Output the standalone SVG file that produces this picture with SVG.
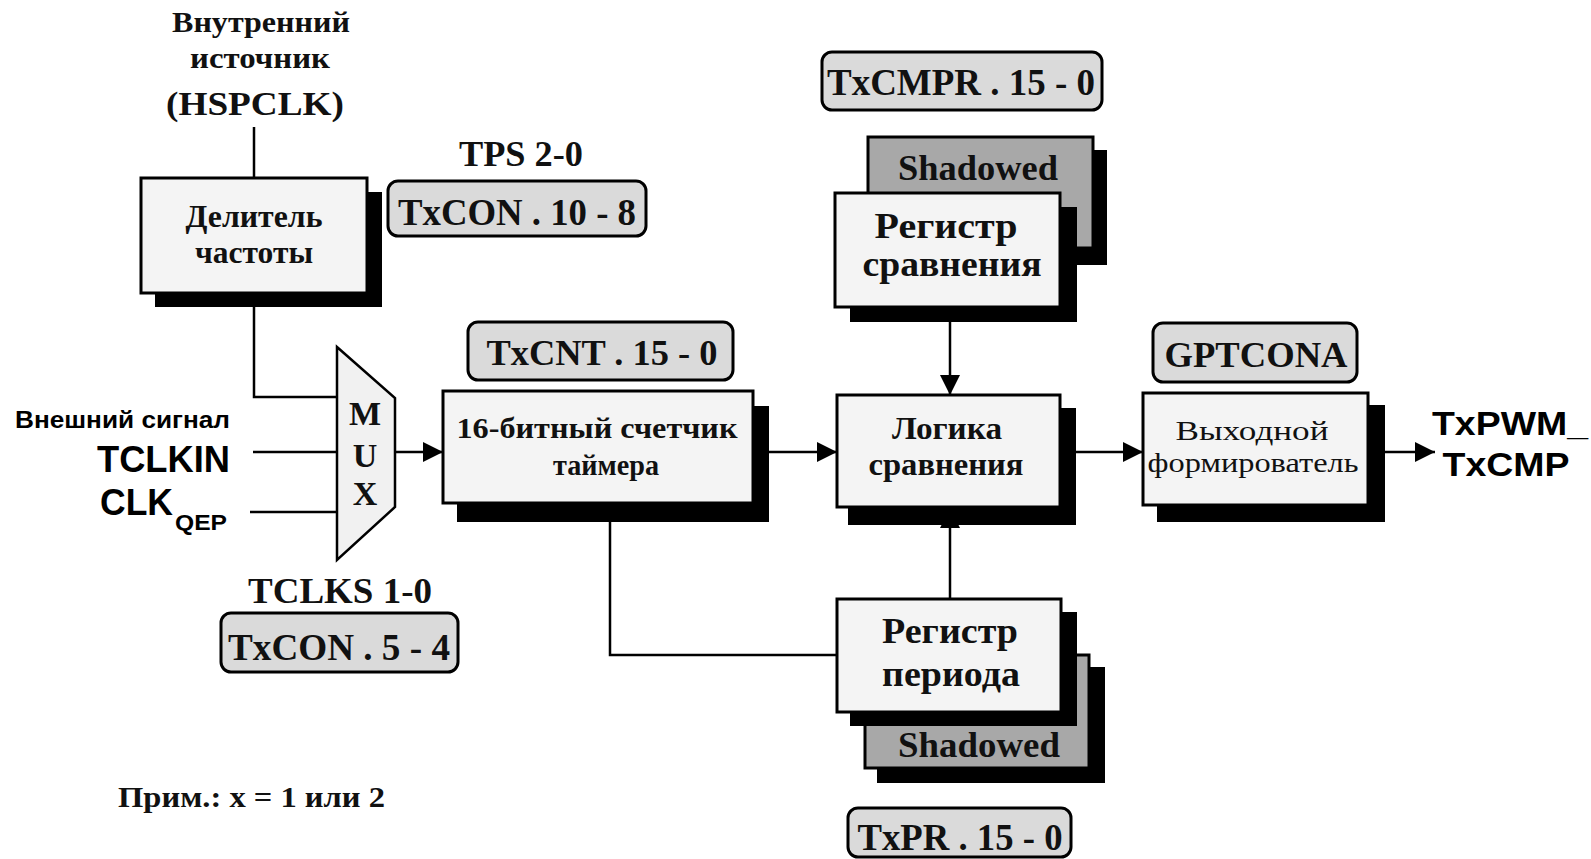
<svg xmlns="http://www.w3.org/2000/svg" width="1591" height="859" viewBox="0 0 1591 859">
<defs>
<style>
.box{fill:#f4f4f4;stroke:#000;stroke-width:3}
.shd{fill:#000}
.sbox{fill:#a8a8a8;stroke:#000;stroke-width:3}
.lbl{fill:#dadada;stroke:#000;stroke-width:3}
.mux{fill:#f1f1f1;stroke:#000;stroke-width:2.5}
.ln{fill:none;stroke:#000;stroke-width:2.5}
.arr{fill:none;stroke:#000;stroke-width:2.5;marker-end:url(#ah)}
.s{font-family:"Liberation Serif","DejaVu Serif",serif;font-weight:bold;fill:#111;text-anchor:middle}
.st{font-family:"Liberation Serif","DejaVu Serif",serif;font-weight:bold;fill:#111;text-anchor:start}
.r{font-family:"Liberation Serif","DejaVu Serif",serif;font-weight:normal;fill:#111;text-anchor:middle}
.a{font-family:"Liberation Sans",Arial,sans-serif;font-weight:bold;fill:#000;text-anchor:start}
.am{font-family:"Liberation Sans",Arial,sans-serif;font-weight:bold;fill:#000;text-anchor:middle}
</style>
<marker id="ah" markerUnits="userSpaceOnUse" markerWidth="22" markerHeight="22" refX="20" refY="10" orient="auto">
<path d="M0,0 L20,10 L0,20 Z" fill="#000"/>
</marker>
</defs>
<rect width="1591" height="859" fill="#fff"/>

<g id="connectors">
<path class="ln" d="M254,127 V178"/>
<path class="ln" d="M254,293 V397 H337"/>
<path class="ln" d="M253,452 H337"/>
<path class="ln" d="M250,512 H337"/>
<path class="arr" d="M395,452 H443"/>
<path class="arr" d="M753,452 H837"/>
<path class="arr" d="M1060,452 H1143"/>
<path class="arr" d="M1368,452 H1435"/>
<path class="arr" d="M950,307 V395"/>
<path class="arr" d="M950,599 V508"/>
<path class="ln" d="M610,503 V655 H837"/>
</g>

<g id="source-label">
<text class="s" x="261" y="32" font-size="30" textLength="178" lengthAdjust="spacingAndGlyphs">Внутренний</text>
<text class="s" x="260" y="68" font-size="30" textLength="140" lengthAdjust="spacingAndGlyphs">источник</text>
<text class="s" x="255" y="115" font-size="34" textLength="178" lengthAdjust="spacingAndGlyphs">(HSPCLK)</text>
</g>

<g id="divider">
<rect class="shd" x="155" y="192" width="227" height="115"/>
<rect class="box" x="141" y="178" width="226" height="115"/>
<text class="s" x="254" y="227" font-size="31" textLength="137" lengthAdjust="spacingAndGlyphs">Делитель</text>
<text class="s" x="254" y="263" font-size="31" textLength="118" lengthAdjust="spacingAndGlyphs">частоты</text>
</g>

<g id="tps">
<text class="s" x="521" y="166" font-size="35" textLength="124" lengthAdjust="spacingAndGlyphs">TPS 2-0</text>
<rect class="lbl" x="388" y="181" width="258" height="55" rx="10"/>
<text class="s" x="517" y="225" font-size="37" textLength="238" lengthAdjust="spacingAndGlyphs">TxCON . 10 - 8</text>
</g>

<g id="inputs">
<text class="a" x="15" y="428" font-size="24" textLength="215" lengthAdjust="spacingAndGlyphs">Внешний сигнал</text>
<text class="a" x="97" y="472" font-size="37" textLength="133" lengthAdjust="spacingAndGlyphs">TCLKIN</text>
<text class="a" x="100" y="515" font-size="36" textLength="73" lengthAdjust="spacingAndGlyphs">CLK</text>
<text class="a" x="175" y="530" font-size="22" textLength="52" lengthAdjust="spacingAndGlyphs">QEP</text>
</g>

<g id="mux">
<polygon class="mux" points="337,347 395,398 395,507 337,560"/>
<text class="s" x="365" y="425" font-size="34">M</text>
<text class="s" x="365" y="467" font-size="34">U</text>
<text class="s" x="365" y="505" font-size="34">X</text>
</g>

<g id="tclks">
<text class="s" x="340" y="603" font-size="36" textLength="184" lengthAdjust="spacingAndGlyphs">TCLKS 1-0</text>
<rect class="lbl" x="221" y="613" width="237" height="59" rx="10"/>
<text class="s" x="339" y="660" font-size="38" textLength="222" lengthAdjust="spacingAndGlyphs">TxCON . 5 - 4</text>
</g>

<g id="counter">
<rect class="lbl" x="468" y="322" width="265" height="58" rx="10"/>
<text class="s" x="602" y="365" font-size="36" textLength="231" lengthAdjust="spacingAndGlyphs">TxCNT . 15 - 0</text>
<rect class="shd" x="457" y="406" width="312" height="116"/>
<rect class="box" x="443" y="391" width="310" height="112"/>
<text class="s" x="597" y="438" font-size="30" textLength="281" lengthAdjust="spacingAndGlyphs">16-битный счетчик</text>
<text class="s" x="606" y="475" font-size="30" textLength="106" lengthAdjust="spacingAndGlyphs">таймера</text>
</g>

<g id="compare-register">
<rect class="lbl" x="822" y="52" width="280" height="58" rx="10"/>
<text class="s" x="961" y="95" font-size="37" textLength="268" lengthAdjust="spacingAndGlyphs">TxCMPR . 15 - 0</text>
<rect class="shd" x="882" y="150" width="225" height="115"/>
<rect class="sbox" x="868" y="137" width="225" height="111"/>
<text class="s" x="978" y="180" font-size="35" fill="#222" textLength="160" lengthAdjust="spacingAndGlyphs">Shadowed</text>
<rect class="shd" x="850" y="207" width="227" height="115"/>
<rect class="box" x="835" y="193" width="225" height="114"/>
<text class="s" x="946" y="238" font-size="36" textLength="143" lengthAdjust="spacingAndGlyphs">Регистр</text>
<text class="s" x="952" y="276" font-size="36" textLength="179" lengthAdjust="spacingAndGlyphs">сравнения</text>
</g>

<g id="compare-logic">
<rect class="shd" x="848" y="408" width="228" height="117"/>
<rect class="box" x="837" y="395" width="223" height="112"/>
<text class="s" x="947" y="439" font-size="31" textLength="110" lengthAdjust="spacingAndGlyphs">Логика</text>
<text class="s" x="946" y="475" font-size="31" textLength="155" lengthAdjust="spacingAndGlyphs">сравнения</text>
</g>

<g id="period-register">
<rect class="shd" x="877" y="667" width="228" height="116"/>
<rect class="sbox" x="865" y="655" width="224" height="113"/>
<text class="s" x="979" y="757" font-size="35" fill="#222" textLength="162" lengthAdjust="spacingAndGlyphs">Shadowed</text>
<rect class="shd" x="850" y="612" width="227" height="114"/>
<rect class="box" x="837" y="599" width="224" height="113"/>
<text class="s" x="950" y="643" font-size="36" textLength="136" lengthAdjust="spacingAndGlyphs">Регистр</text>
<text class="s" x="951" y="686" font-size="36" textLength="138" lengthAdjust="spacingAndGlyphs">периода</text>
<rect class="lbl" x="848" y="808" width="223" height="49" rx="10"/>
<text class="s" x="960" y="850" font-size="37" textLength="205" lengthAdjust="spacingAndGlyphs">TxPR . 15 - 0</text>
</g>

<g id="output-shaper">
<rect class="lbl" x="1153" y="323" width="204" height="59" rx="10"/>
<text class="s" x="1256" y="367" font-size="36" textLength="183" lengthAdjust="spacingAndGlyphs">GPTCONA</text>
<rect class="shd" x="1157" y="405" width="228" height="117"/>
<rect class="box" x="1143" y="393" width="225" height="112"/>
<text class="r" x="1252" y="440" font-size="28" textLength="153" lengthAdjust="spacingAndGlyphs">Выходной</text>
<text class="r" x="1253" y="472" font-size="28" textLength="211" lengthAdjust="spacingAndGlyphs">формирователь</text>
</g>

<g id="output">
<text class="am" x="1510" y="435" font-size="33" textLength="156" lengthAdjust="spacingAndGlyphs">TxPWM_</text>
<text class="am" x="1506" y="476" font-size="33" textLength="127" lengthAdjust="spacingAndGlyphs">TxCMP</text>
</g>

<g id="note">
<text class="st" x="118" y="807" font-size="29" textLength="267" lengthAdjust="spacingAndGlyphs">Прим.: x = 1 или 2</text>
</g>
</svg>
